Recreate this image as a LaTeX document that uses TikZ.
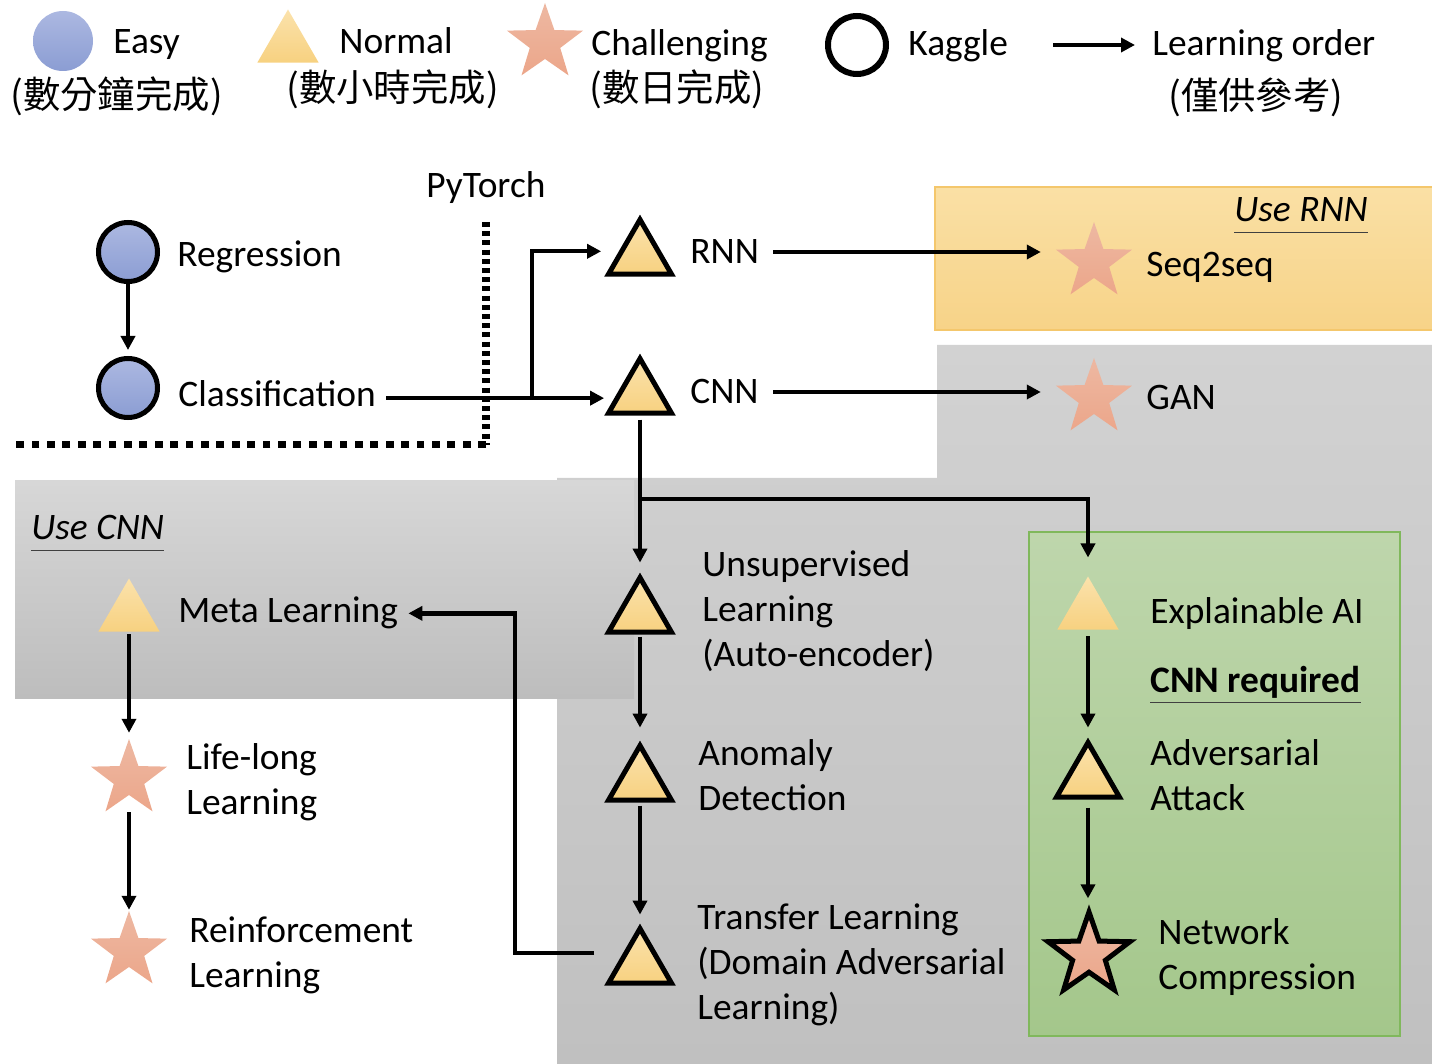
\documentclass[tikz,border=0pt]{standalone}
\usepackage{fontspec}
\setmainfont{Carlito}
\newfontfamily\cjk{Noto Sans CJK TC}
\usetikzlibrary{shapes.geometric, arrows.meta, positioning}

\definecolor{cBlueTop}{RGB}{172,184,225}
\definecolor{cBlueBot}{RGB}{139,157,211}
\definecolor{cYelTop}{RGB}{251,226,172}
\definecolor{cYelBot}{RGB}{247,209,128}
\definecolor{cRedTop}{RGB}{237,184,162}
\definecolor{cRedBot}{RGB}{236,166,138}
\definecolor{cRnnTop}{RGB}{250,224,165}
\definecolor{cRnnBot}{RGB}{247,211,136}
\definecolor{cRnnEdge}{RGB}{244,199,108}
\definecolor{cBigTop}{RGB}{210,210,210}
\definecolor{cBigBot}{RGB}{192,192,192}
\definecolor{cBoxTop}{RGB}{215,215,215}
\definecolor{cBoxBot}{RGB}{189,189,189}
\definecolor{cGreenTop}{RGB}{190,214,172}
\definecolor{cGreenBot}{RGB}{164,199,139}
\definecolor{cGreenEdge}{RGB}{128,184,92}

\begin{document}
\begin{tikzpicture}[x=0.5pt,y=-0.5pt,>={Triangle[length=7pt,width=7pt]},
    every node/.style={font=\fontsize{18.7}{22.5}\selectfont},
    txt/.style={anchor=base west,inner sep=0pt,align=left},
    tag/.style={txt,text depth=5pt,font=\fontsize{18.7}{22.5}\selectfont\itshape},
    uline/.style={line width=0.8pt,black!75},
    arr/.style={->,line width=2.2pt},
    easy/.style={circle,inner sep=0pt,minimum size=29.5pt,top color=cBlueTop,bottom color=cBlueBot,draw=black,line width=2.5pt},
    normal/.style={regular polygon,regular polygon sides=3,inner sep=0pt,minimum size=36.4pt,top color=cYelTop,bottom color=cYelBot,draw=black,line width=2.5pt},
    hard/.style={star,star points=5,star point ratio=2.5,inner sep=0pt,minimum size=40pt,top color=cRedTop,bottom color=cRedBot},
    noline/.style={draw=none,minimum size=35.5pt}
]
\useasboundingbox (0,0) rectangle (1432,1064);

% backgrounds
\shade[top color=cBigTop,bottom color=cBigBot] (557,478) -- (937,478) -- (937,345) -- (1432,345) -- (1432,1064) -- (557,1064) -- cycle;
\shade[top color=cBoxTop,bottom color=cBoxBot] (15,481) rectangle (634,698);
\draw[cRnnEdge,line width=1pt,top color=cRnnTop,bottom color=cRnnBot] (935,187) rectangle (1440,330);
\draw[cGreenEdge,line width=0.8pt,top color=cGreenTop,bottom color=cGreenBot] (1029,532) rectangle (1400,1036);

% PyTorch border
\coordinate (dotTop) at (486,222);
\coordinate (dotCorner) at (486,445);
\coordinate (dotEnd) at (15,445);
\draw[line width=3.8pt,dash pattern=on 2.5pt off 2.1pt] (dotTop) -- (dotCorner);
\draw[line width=3.5pt,dash pattern=on 3.9pt off 3.8pt] (dotCorner) -- (dotEnd);

% legend
\node[easy,draw=none,minimum size=30pt] (legEasy) at (63,41) {};
\node[txt] (legEasyT) at (113,54) {Easy};
\node[txt] (legEasyC) at (10,109) {\cjk (數分鐘完成)};
\node[normal,noline] (legNormal) at (288,45) {};
\node[txt] (legNormalT) at (339,54) {Normal};
\node[txt] (legNormalC) at (286,102) {\cjk (數小時完成)};
\node[hard] (legHard) at (545,43) {};
\node[txt] (legHardT) at (591,56) {Challenging};
\node[txt] (legHardC) at (589,102) {\cjk (數日完成)};
\node[circle,draw=black,line width=3pt,inner sep=0pt,minimum size=29pt] (legKaggle) at (857,45) {};
\node[txt] (legKaggleT) at (908,56) {Kaggle};
\coordinate (legFrom) at (1053,45);
\coordinate (legTo) at (1135,45);
\draw[arr] (legFrom) -- (legTo);
\node[txt] (legOrderT) at (1152,56) {Learning order};
\node[txt] (legOrderC) at (1168,110) {\cjk (僅供參考)};

% basics
\node[txt] (pyT) at (426,198) {PyTorch};
\node[easy] (reg) at (128,252) {};
\node[txt] (regT) at (177,267) {Regression};
\node[easy] (cls) at (128,388) {};
\node[txt] (clsT) at (178,407) {Classification};

% networks
\node[normal] (rnn) at (640,256) {};
\node[txt] (rnnT) at (690,264) {RNN};
\node[normal] (cnn) at (640,395) {};
\node[txt] (cnnT) at (690,404) {CNN};
\node[hard] (seq) at (1094,262) {};
\node[txt] (seqT) at (1146,277) {Seq2seq};
\node[tag] (useRnn) at (1234,222) {Use RNN};
\node[hard] (gan) at (1094,398) {};
\node[txt] (ganT) at (1146,410) {GAN};

% cnn column
\node[normal] (unsup) at (640,614) {};
\node[txt] (unsupT) at (702,667) {Unsupervised\\Learning\\(Auto-encoder)};
\node[normal] (anom) at (640,782) {};
\node[txt] (anomT) at (698,810) {Anomaly\\Detection};
\node[normal] (trans) at (640,965) {};
\node[txt] (transT) at (697,1019) {Transfer Learning\\(Domain Adversarial\\Learning)};

% use cnn
\node[tag] (useCnn) at (31,540) {Use CNN};
\node[normal,noline] (meta) at (129,614) {};
\node[txt] (metaT) at (178,623) {Meta Learning};
\node[hard] (life) at (129,779) {};
\node[txt] (lifeT) at (186,814) {Life-long\\Learning};
\node[hard] (rl) at (129,951) {};
\node[txt] (rlT) at (189,987) {Reinforcement\\Learning};

% cnn required
\node[normal,noline] (xai) at (1088,612) {};
\node[txt] (xaiT) at (1150,624) {Explainable AI};
\node[tag,font=\fontsize{18.7}{22.5}\selectfont\bfseries] (req) at (1150,692) {CNN required};
\node[normal] (adv) at (1088,779) {};
\node[txt] (advT) at (1150,810) {Adversarial\\Attack};
\node[hard,draw=black,line width=2.5pt,minimum size=43pt] (comp) at (1089,955) {};
\node[txt] (compT) at (1158,989) {Network\\Compression};

\draw[uline] (useRnn.south west) -- (useRnn.south east);
\draw[uline] (useCnn.south west) -- (useCnn.south east);
\draw[uline] (req.south west) -- (req.south east);

% learning order
\draw[arr,shorten >=3pt] (reg) -- (cls);
\draw[arr,shorten <=5pt] ([yshift=-2pt]clsT.east) -- ([yshift=-2pt]clsT.east -| cnn.corner 2);
\coordinate (split) at (532,398);
\draw[arr] (split) |- ([shift={(-1.5pt,12.7pt)}]rnn.corner 2);
\draw[arr,shorten <=7pt,shorten >=7pt] (rnnT.east) -- (rnnT.east -| seq.outer point 2);
\draw[arr,shorten <=7pt,shorten >=7pt] (cnnT.east) -- (cnnT.east -| gan.outer point 2);
\draw[arr,shorten <=2pt,shorten >=5pt] (cnn) -- (unsup);
\coordinate (fork) at (640,499);
\draw[arr,shorten >=7pt] (fork) -| (xai);
\draw[arr,shorten <=1pt,shorten >=6.5pt] (unsup) -- (anom);
\draw[arr,shorten <=1.5pt,shorten >=4.5pt] (anom) -- (trans);
\coordinate (back) at (515,953);
\draw[arr,shorten >=5pt] ([xshift=-5pt]back -| trans.corner 2) -- (back) |- (metaT);
\draw[arr,shorten >=2.5pt] (meta) -- (life);
\draw[arr] (life.outer point 3 -| life.center) -- (rl);
\draw[arr,shorten <=2pt,shorten >=5pt] (xai) -- (adv);
\draw[arr,shorten <=4pt,shorten >=3pt] (adv) -- (adv |- comp.north);
\end{tikzpicture}
\end{document}
